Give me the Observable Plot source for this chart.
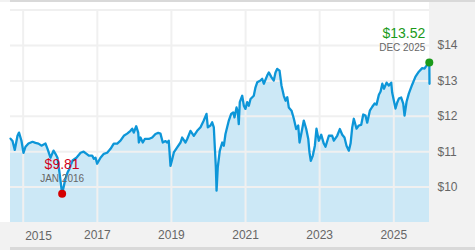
<!DOCTYPE html>
<html><head><meta charset="utf-8">
<script src="https://cdn.jsdelivr.net/npm/d3@7"></script>
<script src="https://cdn.jsdelivr.net/npm/@observablehq/plot@0.6"></script>
<style>
html,body{margin:0;padding:0;background:#fff;}
#wrap{position:relative;width:475px;height:250px;background:#f2f2f2;overflow:hidden;font-family:"Liberation Sans",Arial,sans-serif;}
#wrap .white{position:absolute;left:0;top:2px;width:429px;height:220px;background:#fff;}
#wrap .topline{position:absolute;left:10px;top:0;width:465px;height:2px;background:#d9d9d9;}
#wrap .botline{position:absolute;left:10px;top:247px;width:465px;height:3px;background:#d9d9d9;}
#wrap svg{position:absolute;left:0;top:0;}
</style></head><body>
<div id="wrap"><div class="white"></div><div class="topline"></div><div class="botline"></div></div>
<script>
const dates = [
"2014-08-29","2014-09-18","2014-10-10","2014-11-06","2014-11-21","2014-12-15","2015-01-04","2015-01-24","2015-02-22","2015-04-03",
"2015-05-02","2015-06-01","2015-06-30","2015-08-09","2015-08-29","2015-09-27","2015-10-27","2015-11-15","2015-12-05","2015-12-25",
"2016-01-20","2016-02-02","2016-02-22","2016-03-13","2016-04-01","2016-05-01","2016-06-09","2016-07-20","2016-08-19","2016-09-17",
"2016-10-09","2016-11-11","2016-11-27","2016-12-14","2016-12-30","2017-02-01","2017-03-06","2017-04-08","2017-05-11","2017-06-12",
"2017-07-16","2017-08-17","2017-09-19","2017-10-22","2017-11-24","2017-12-11","2017-12-26","2018-01-19","2018-02-08","2018-02-14",
"2018-03-02","2018-03-25","2018-04-14","2018-05-23","2018-06-26","2018-07-28","2018-08-24","2018-09-15","2018-10-08","2018-11-04",
"2018-11-21","2018-12-06","2018-12-23","2019-01-09","2019-01-25","2019-02-27","2019-04-01","2019-04-17","2019-05-20","2019-06-06",
"2019-07-08","2019-08-10","2019-09-12","2019-10-15","2019-11-16","2019-12-13","2019-12-26","2020-01-21","2020-02-07","2020-02-23",
"2020-03-04","2020-03-14","2020-03-21","2020-04-02","2020-04-22","2020-05-16","2020-06-01","2020-06-17","2020-07-20","2020-08-12",
"2020-09-01","2020-09-14","2020-10-04","2020-10-17","2020-10-26","2020-11-05","2020-11-29","2020-12-15","2020-12-31","2021-01-17",
"2021-02-02","2021-02-19","2021-03-23","2021-04-09","2021-04-26","2021-05-28","2021-06-14","2021-06-30","2021-08-02","2021-08-18",
"2021-09-14","2021-10-06","2021-10-23","2021-11-09","2021-12-02","2021-12-21","2022-01-13","2022-01-30","2022-02-16","2022-03-03",
"2022-03-30","2022-04-22","2022-05-15","2022-06-04","2022-06-17","2022-07-07","2022-07-29","2022-08-22","2022-09-11","2022-09-23",
"2022-10-06","2022-10-26","2022-11-15","2022-12-01","2022-12-24","2023-01-17","2023-02-11","2023-02-28","2023-04-02","2023-05-05",
"2023-05-21","2023-06-23","2023-07-19","2023-08-12","2023-09-03","2023-09-23","2023-10-16","2023-11-02","2023-11-18","2023-12-04",
"2023-12-31","2024-01-22","2024-02-15","2024-03-06","2024-03-28","2024-04-14","2024-05-10","2024-06-03","2024-06-25","2024-07-15",
"2024-08-07","2024-08-24","2024-09-10","2024-09-26","2024-10-22","2024-11-13","2024-12-07","2024-12-16","2025-01-02","2025-01-18",
"2025-02-04","2025-02-20","2025-03-15","2025-04-04","2025-04-17","2025-05-07","2025-05-29","2025-07-02","2025-08-03","2025-09-05",
"2025-10-08","2025-10-31","2025-11-20","2025-12-17","2025-12-19"
];
const prices = [
11.37,11.30,11.05,11.45,11.54,11.31,10.97,11.14,11.23,11.28,
11.25,11.23,11.17,11.23,11.08,10.83,11.03,10.94,10.83,10.41,
9.81,9.98,10.24,10.41,10.52,10.75,10.83,10.97,11.00,10.94,
10.89,10.89,10.80,10.83,10.66,10.83,10.94,10.97,11.08,11.23,
11.23,11.31,11.45,11.51,11.59,11.65,11.54,11.72,11.54,11.26,
11.40,11.26,11.36,11.36,11.40,11.50,11.53,11.51,11.26,11.30,
11.26,11.31,10.60,10.79,10.98,11.12,11.26,11.40,11.26,11.36,
11.59,11.45,11.59,11.69,11.88,12.07,11.69,11.74,11.83,11.69,
11.12,10.56,9.90,10.56,11.03,11.26,11.17,11.50,11.88,12.07,
12.11,11.97,12.25,12.11,11.78,12.40,12.58,12.30,12.21,12.40,
12.30,12.49,12.58,12.82,12.96,13.01,13.06,12.92,13.15,13.24,
13.10,13.01,13.24,13.34,13.29,12.87,12.58,12.44,12.54,12.25,
12.16,11.93,11.64,11.74,11.26,11.55,11.88,11.64,11.36,10.98,
10.74,10.89,11.17,11.65,11.31,11.48,11.23,11.14,11.45,11.45,
11.31,11.45,11.64,11.48,11.40,11.17,11.03,11.23,11.68,11.93,
11.65,11.74,11.76,12.05,12.02,11.82,12.16,12.27,12.36,12.33,
12.61,12.70,12.92,12.78,12.95,12.87,12.95,12.67,12.44,12.22,
12.39,12.50,12.53,12.36,12.02,12.41,12.64,12.90,13.12,13.26,
13.36,13.35,13.43,13.52,12.92
];
const yTickValues = [10, 11, 12, 13, 14];
const yGridValues = [10, 11, 12, 13, 14, 15];
const xTickYears = [2015, 2017, 2019, 2021, 2023, 2025];
const lowPoint = [{date: "2016-01-20", value: 9.81, price: "$9.81", label: "JAN 2016"}];
const highPoint = [{date: "2025-12-17", value: 13.52, price: "$13.52", label: "DEC 2025"}];

const data = dates.map((d, i) => ({date: new Date(d), value: prices[i]}));
const tickDates = xTickYears.map(y => new Date(Date.UTC(y, 0, 1)));
const low = lowPoint.map(d => ({...d, date: new Date(d.date)}));
const high = highPoint.map(d => ({...d, date: new Date(d.date)}));
const yMin = 9, yMax = 15.215;
const font = '"Liberation Sans", Arial, sans-serif';

const chart = Plot.plot({
  width: 475, height: 250,
  marginLeft: 10, marginRight: 46, marginTop: 2, marginBottom: 28,
  style: {background: "transparent", fontFamily: font, fontSize: "12px", color: "#666", overflow: "visible"},
  x: {type: "utc", domain: [data[0].date, data[data.length - 1].date]},
  y: {domain: [yMin, yMax]},
  marks: [
    Plot.areaY(data, {x: "date", y1: yMin, y2: "value", fill: "#cce8f6"}),
    Plot.ruleY(yGridValues, {stroke: "#f0f0f0", strokeWidth: 2}),
    Plot.ruleX(tickDates, {y1: yMin, y2: 15, stroke: "#f0f0f0", strokeWidth: 2}),
    Plot.lineY(data, {x: "date", y: "value", stroke: "#0d96d8", strokeWidth: 2.3}),
    Plot.axisY(yTickValues, {anchor: "right", tickSize: 0, tickPadding: 8, tickFormat: d => "$" + d, fill: "#666", fontSize: 12, label: null}),
    Plot.axisX(tickDates.slice(1), {tickSize: 0, tickPadding: 8, tickFormat: d => String(d.getUTCFullYear()), fill: "#666", fontSize: 12, label: null}),
    Plot.text(tickDates.slice(0, 1), {x: d => d, frameAnchor: "bottom", lineAnchor: "bottom", dy: 17, dx: 2, text: d => String(d.getUTCFullYear()), textAnchor: "start", fill: "#666", fontSize: 12}),
    Plot.text(low, {x: "date", y: "value", text: "price", lineAnchor: "bottom", dy: -25, fill: "#d0021b", fontSize: 14}),
    Plot.text(low, {x: "date", y: "value", text: "label", lineAnchor: "bottom", dy: -12, fill: "#666", fontSize: 10}),
    Plot.text(high, {x: "date", y: "value", text: "price", lineAnchor: "bottom", textAnchor: "end", dx: -4, dy: -25, fill: "#1a9a1a", fontSize: 14}),
    Plot.text(high, {x: "date", y: "value", text: "label", lineAnchor: "bottom", textAnchor: "end", dx: -4, dy: -12, fill: "#666", fontSize: 10}),
    Plot.dot(low, {x: "date", y: "value", r: 4, fill: "#d40000"}),
    Plot.dot(high, {x: "date", y: "value", r: 4, fill: "#1a9a1a"})
  ]
});
document.getElementById("wrap").appendChild(chart);
</script>
</body></html>
